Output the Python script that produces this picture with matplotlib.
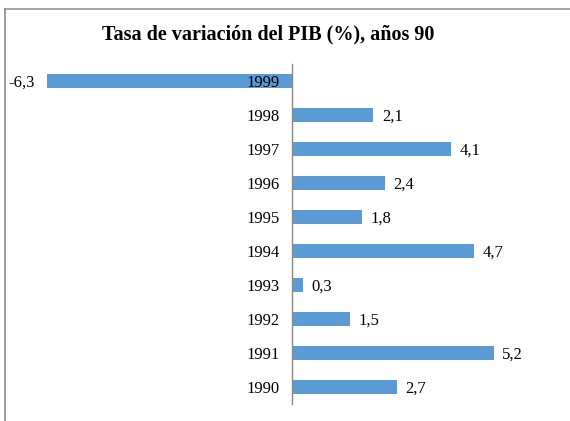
import matplotlib
matplotlib.use("Agg")
import matplotlib.pyplot as plt
from matplotlib.lines import Line2D

years = ["1990", "1991", "1992", "1993", "1994", "1995", "1996", "1997", "1998", "1999"]
values = [2.7, 5.2, 1.5, 0.3, 4.7, 1.8, 2.4, 4.1, 2.1, -6.3]
value_labels = ["2,7", "5,2", "1,5", "0,3", "4,7", "1,8", "2,4", "4,1", "2,1", "-6,3"]
title = "Tasa de variación del PIB (%), años 90"

W, H = 570, 421
fig = plt.figure(figsize=(W / 100, H / 100), dpi=100)
plt.rcParams['font.family'] = ['Liberation Serif', 'DejaVu Serif']

# border (chart area frame)
fig.add_artist(Line2D([5 / W, 1.0], [1 - 9 / H, 1 - 9 / H], transform=fig.transFigure,
                      color="#a6a6a6", lw=1.5))
fig.add_artist(Line2D([5 / W, 5 / W], [0, 1 - 9 / H], transform=fig.transFigure,
                      color="#8c8c8c", lw=1.2))

left_px, right_px = 47, 525
top_px, bot_px = 64, 404
ax = fig.add_axes([left_px / W, 1 - bot_px / H, (right_px - left_px) / W, (bot_px - top_px) / H])

pos = list(range(len(years)))
ax.barh(pos, values, height=0.4, color="#5b9bd5")
ax.set_xlim(-6.3, 6.0)
ax.set_ylim(-0.5, len(years) - 0.5)

ax.spines['left'].set_position(('data', 0))
ax.spines['left'].set_color("#888888")
ax.spines['left'].set_linewidth(1.0)
for s in ['top', 'right', 'bottom']:
    ax.spines[s].set_visible(False)
ax.set_xticks([])
ax.set_yticks(pos)
ax.set_yticklabels(years, fontsize=12)
ax.tick_params(axis='y', length=0, pad=9)

for p, v, lab in zip(pos, values, value_labels):
    if v >= 0:
        ax.annotate(lab, (v, p), xytext=(6, -1), textcoords='offset points',
                    ha='left', va='center', fontsize=12)
    else:
        ax.annotate(lab, (v, p), xytext=(-9, -1), textcoords='offset points',
                    ha='right', va='center', fontsize=12)

fig.text(268 / W, 1 - 34 / H, title, ha='center', va='center', fontsize=14.5, fontweight='bold')

fig.savefig("out.png", dpi=100)
